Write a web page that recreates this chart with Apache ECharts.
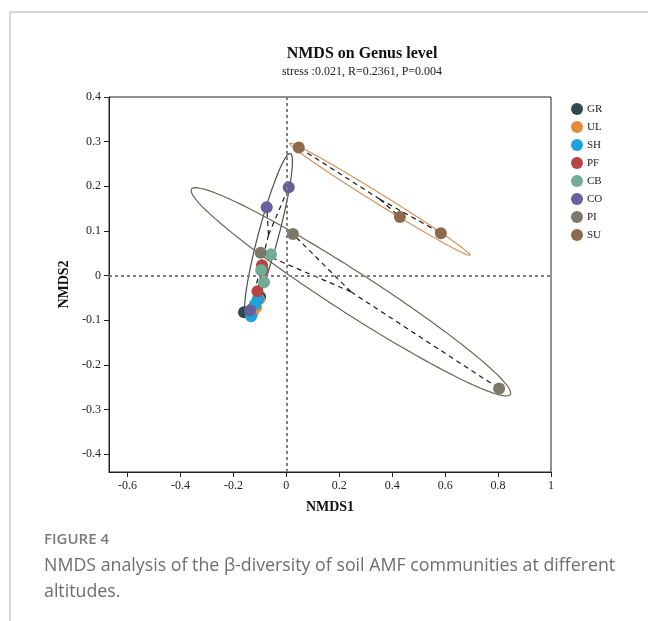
<!DOCTYPE html>
<html><head><meta charset="utf-8">
<script src="https://cdn.jsdelivr.net/npm/echarts@6/dist/echarts.min.js"></script>
<style>html,body{margin:0;padding:0;background:#fff}#c{width:648px;height:621px}</style>
</head><body><div id="c"></div>
<script>
// ---- data ----
const groups = ['GR','UL','SH','PF','CB','CO','PI','SU'];
const grX = [-0.160, -0.099, -0.129], grY = [-0.082, -0.048, -0.075];
const ulX = [-0.114, -0.126, -0.103], ulY = [-0.071, -0.082, -0.053];
const shX = [-0.107, -0.118, -0.133], shY = [-0.053, -0.064, -0.091];
const pfX = [-0.092, -0.088, -0.109], pfY = [0.023, 0.012, -0.035];
const cbX = [-0.058, -0.084, -0.095], cbY = [0.048, -0.015, 0.012];
const coX = [0.009, -0.074, -0.137], coY = [0.198, 0.153, -0.078];
const piX = [0.025, 0.804, -0.097], piY = [0.093, -0.253, 0.051];
const suX = [0.047, 0.429, 0.584], suY = [0.287, 0.131, 0.095];
const xTicks = [-0.6, -0.4, -0.2, 0, 0.2, 0.4, 0.6, 0.8, 1];
const yTicks = [-0.4, -0.3, -0.2, -0.1, 0, 0.1, 0.2, 0.3, 0.4];
const ellipseGroups = ['CO','PI','SU'];

// ---- styles ----
const colors = {GR:'#2d4a50', UL:'#e38b3e', SH:'#1ca3dc', PF:'#b64444', CB:'#70ad94', CO:'#6a5f9e', PI:'#7d786a', SU:'#8c6a4b'};
const ellipseColors = {CO:'#4f4f4c', PI:'#6b6657', SU:'#d4945c'};
const ellipseScale = 1.07;
const serif = '"Liberation Serif", "Times New Roman", serif';

const dataX = {GR:grX, UL:ulX, SH:shX, PF:pfX, CB:cbX, CO:coX, PI:piX, SU:suX};
const dataY = {GR:grY, UL:ulY, SH:shY, PF:pfY, CB:cbY, CO:coY, PI:piY, SU:suY};

function centroid(xs, ys) {
  const n = xs.length;
  return [xs.reduce((a,b)=>a+b,0)/n, ys.reduce((a,b)=>a+b,0)/n];
}
// enclosing ellipse of the points (Steiner-type hull around centroid)
function ehull(xs, ys, steps) {
  const n = xs.length;
  const [mx, my] = centroid(xs, ys);
  let sxx=0, syy=0, sxy=0;
  for (let i=0;i<n;i++){ const dx=xs[i]-mx, dy=ys[i]-my; sxx+=dx*dx; syy+=dy*dy; sxy+=dx*dy; }
  sxx/=n; syy/=n; sxy/=n;
  const a = Math.sqrt(sxx), b = sxy/a, c = Math.sqrt(Math.max(syy - b*b, 0));
  const r = Math.sqrt(2) * ellipseScale;
  const pts = [];
  for (let k=0;k<=steps;k++){
    const t = 2*Math.PI*k/steps;
    pts.push([mx + r*a*Math.cos(t), my + r*(b*Math.cos(t) + c*Math.sin(t))]);
  }
  return pts;
}

const series = [];
series.push({
  type:'line', name:'ref', data:[], silent:true,
  markLine:{silent:true, symbol:['none','none'], label:{show:false},
    lineStyle:{type:[3,3], color:'#808080', width:2},
    data:[{xAxis:0},{yAxis:0}]},
  z:1
});
ellipseGroups.forEach(g=>{
  series.push({type:'line', name:g+'-ellipse', data:ehull(dataX[g], dataY[g], 180),
    showSymbol:false, smooth:false, silent:true, z:2,
    lineStyle:{color:ellipseColors[g], width:1.2}});
});
const spider = [];
groups.forEach(g=>{
  const c = centroid(dataX[g], dataY[g]);
  dataX[g].forEach((x,i)=>spider.push({coords:[c,[x,dataY[g][i]]]}));
});
series.push({type:'lines', coordinateSystem:'cartesian2d', data:spider, silent:true, z:2,
  lineStyle:{type:[5,4], color:'#1a1a1a', width:1.2, opacity:1}});
groups.forEach(g=>{
  series.push({type:'scatter', name:g, data:dataX[g].map((x,i)=>[x,dataY[g][i]]),
    symbolSize:12, z:3, itemStyle:{color:colors[g], opacity:1}});
});

const chart = echarts.init(document.getElementById('c'), null, {renderer:'canvas'});
chart.setOption({
  animation:false,
  backgroundColor:'#fff',
  title:{text:'NMDS on Genus level', subtext:'stress :0.021, R=0.2361, P=0.004',
    left:357, top:41, textAlign:'center', itemGap:4,
    textStyle:{fontFamily:serif, fontWeight:'bold', fontSize:16, color:'#111'},
    subtextStyle:{fontFamily:serif, fontSize:12, color:'#222'}},
  legend:{data:groups, orient:'vertical', left:571, top:103, padding:0, icon:'circle',
    itemWidth:12, itemHeight:12, itemGap:6, itemStyle:{borderWidth:0},
    textStyle:{fontFamily:serif, fontSize:11, color:'#222', lineHeight:12, padding:[0,0,0,-1]}},
  grid:{left:109, right:97, top:97, bottom:149, show:true, borderColor:'#222', borderWidth:1},
  xAxis:{type:'value', min:-0.67, max:1, splitLine:{show:false},
    axisLine:{onZero:false, lineStyle:{color:'#222', width:1}},
    axisTick:{customValues:xTicks, length:5, lineStyle:{color:'#222'}},
    axisLabel:{customValues:xTicks, formatter:v=>String(v), fontFamily:serif, fontSize:12, color:'#222', margin:8},
    name:'NMDS1', nameLocation:'middle', nameGap:28,
    nameTextStyle:{fontFamily:serif, fontWeight:'bold', fontSize:14, color:'#111'}},
  yAxis:{type:'value', min:-0.44, max:0.4, splitLine:{show:false},
    axisLine:{onZero:false, lineStyle:{color:'#222', width:1}},
    axisTick:{customValues:yTicks, length:5, lineStyle:{color:'#222'}},
    axisLabel:{customValues:yTicks, formatter:v=>String(v), fontFamily:serif, fontSize:12, color:'#222', margin:8},
    name:'NMDS2', nameLocation:'middle', nameGap:35,
    nameTextStyle:{fontFamily:serif, fontWeight:'bold', fontSize:14, color:'#111'}},
  graphic:[
    {type:'line', shape:{x1:10,y1:12,x2:648,y2:12}, style:{stroke:'#c9c9c9', lineWidth:1.5}, silent:true},
    {type:'line', shape:{x1:10,y1:12,x2:10,y2:621}, style:{stroke:'#c9c9c9', lineWidth:1.5}, silent:true},
    {type:'text', left:44, top:532, style:{text:'FIGURE 4', font:'600 15px "Open Sans"', fill:'#7a7a7a'}},
    {type:'text', left:44, top:553, style:{text:'NMDS analysis of the β-diversity of soil AMF communities at different\naltitudes.', font:'17.8px "Open Sans"', fill:'#6e6e6e', lineHeight:26}}
  ],
  series:series
});
</script></body></html>
